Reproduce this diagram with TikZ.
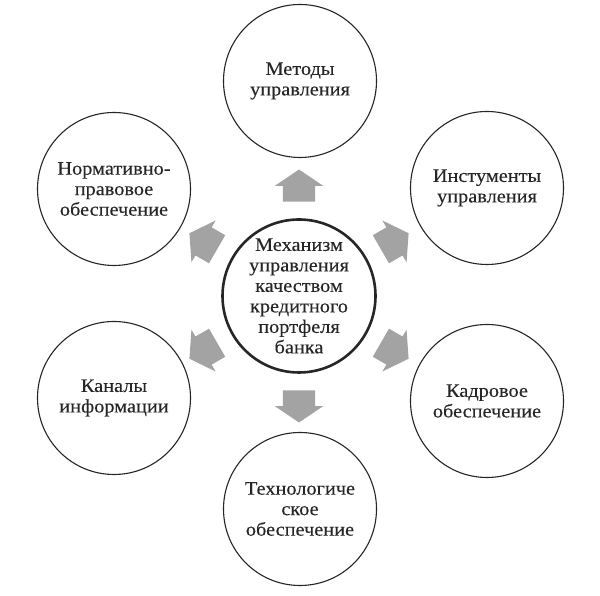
\documentclass[tikz,border=0pt]{standalone}
\usepackage{fontspec}
\setmainfont{Liberation Serif}[FakeStretch=1.07, FakeBold=0.15]
\usetikzlibrary{shapes.arrows}
\definecolor{ink}{HTML}{262626}
\definecolor{arrowgray}{HTML}{A3A3A3}
\tikzset{
  krug/.style={circle, draw=ink, line width=1.1pt, minimum size=153pt, inner sep=0pt,
    align=center, text=ink, font=\fontsize{19}{20.5}\selectfont},
  glavkrug/.style={krug, line width=2.6pt},
  strelka/.style={single arrow, fill=arrowgray, draw=none, inner xsep=0pt, inner ysep=16pt,
    minimum height=32pt, single arrow head extend=8pt,
    single arrow tip angle=112}
}
\begin{document}
\begin{tikzpicture}[x=1pt, y=1pt]
  \useasboundingbox[fill=white] (0,0) rectangle (600,596);

  % Центральный круг
  \node[glavkrug] (mech) at (299,300) {Механизм\\управления\\качеством\\кредитного\\портфеля\\банка};

  % Внешние круги
  \node[krug] (metody) at (300,515) {Методы\\управления};
  \node[krug] (instr) at (487,408) {Инстументы\\управления};
  \node[krug] (kadr) at (487,195) {Кадровое\\обеспечение};
  \node[krug] (tech) at (300,87) {Технологиче\\ское\\обеспечение};
  \node[krug] (kanal) at (114,198) {Каналы\\информации};
  \node[krug] (norm) at (114,407) {Нормативно-\\правовое\\обеспечение};

  % Серые стрелки
  \node[strelka, rotate=90] (s1) at (299,405) {};
  \node[strelka, rotate=30] (s2) at (390,352) {};
  \node[strelka, rotate=-30] (s3) at (390,248) {};
  \node[strelka, rotate=-90] (s4) at (299,195) {};
  \node[strelka, rotate=210] (s5) at (208,248) {};
  \node[strelka, rotate=150] (s6) at (208,352) {};
\end{tikzpicture}
\end{document}
